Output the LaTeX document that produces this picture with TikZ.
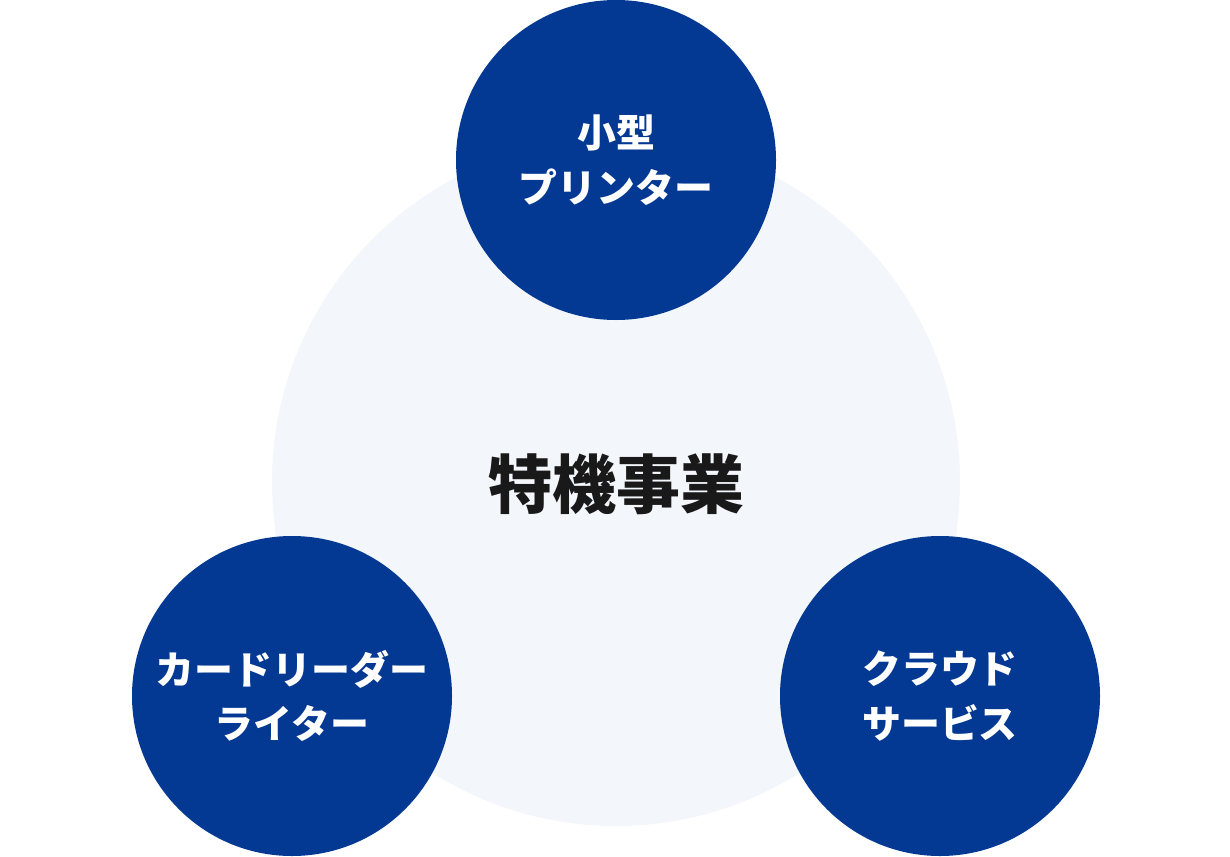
\documentclass[tikz,border=0pt]{standalone}
\usepackage{fontspec}
\newfontfamily\cjk{Noto Sans CJK JP}
\definecolor{navy}{RGB}{3,56,147}
\definecolor{paleblue}{RGB}{243,246,250}
\tikzset{every picture/.style={line width=0.75pt}}

\begin{document}
\begin{tikzpicture}[x=0.75pt,y=0.75pt,yscale=-1,xscale=1]
	\useasboundingbox (0,0) rectangle (1230,856); %set diagram to 1230 x 856
	\tikzset{
		field/.style={circle, fill=paleblue, draw=none, minimum size=516pt, inner sep=0pt},
		branch/.style={circle, fill=navy, draw=none, minimum size=240pt, inner sep=0pt, text=white, align=center, font=\cjk\bfseries\fontsize{29.2}{41}\selectfont}
	}
	
	%Shape: Circle [id:main field] 
	\node [field] (field) at (616,482) {};
	% Text Node
	\node [font=\cjk\bfseries\fontsize{48}{56}\selectfont, text={rgb,255:red,25;green,25;blue,25}] (title) at (616,484) {特機事業};
	
	%Shape: Circle [id:printer] 
	\node [branch] (printer) at (616,160) {小型\\プリンター};
	%Shape: Circle [id:reader] 
	\node [branch] (reader) at (292,696) {カードリーダー\\ライター};
	%Shape: Circle [id:cloud] 
	\node [branch] (cloud) at (940,696) {クラウド\\サービス};
	
\end{tikzpicture}
\end{document}
